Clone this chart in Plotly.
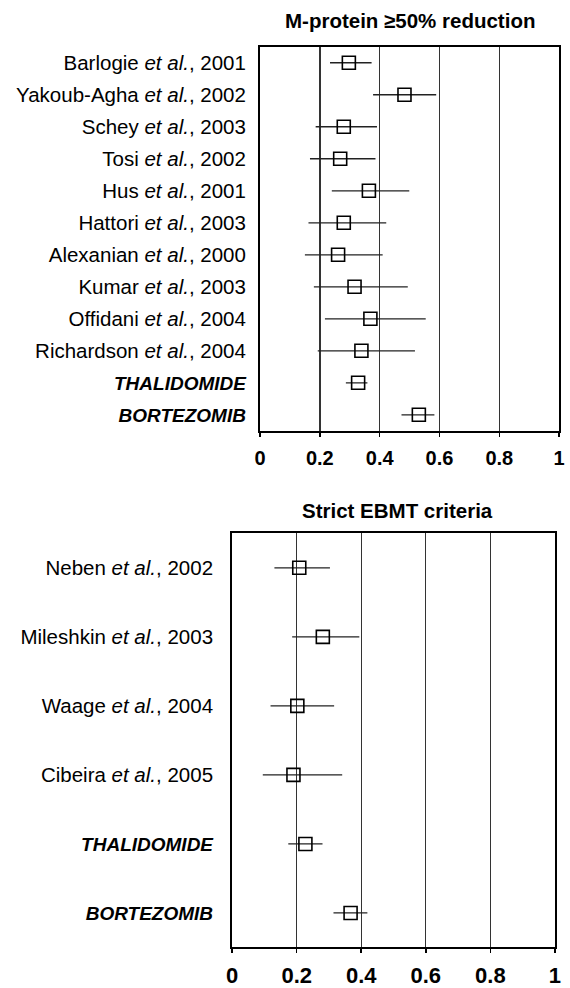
import plotly.graph_objects as go

# ---- Data: M-protein >=50% reduction ----
top_labels = [
    "Barlogie <i>et al.</i>, 2001",
    "Yakoub-Agha <i>et al.</i>, 2002",
    "Schey <i>et al.</i>, 2003",
    "Tosi <i>et al.</i>, 2002",
    "Hus <i>et al.</i>, 2001",
    "Hattori <i>et al.</i>, 2003",
    "Alexanian <i>et al.</i>, 2000",
    "Kumar <i>et al.</i>, 2003",
    "Offidani <i>et al.</i>, 2004",
    "Richardson <i>et al.</i>, 2004",
    "<span style=\"font-size:19px\"><b><i>THALIDOMIDE</i></b></span>",
    "<span style=\"font-size:19px\"><b><i>BORTEZOMIB</i></b></span>",
]
top_est = [0.297, 0.483, 0.280, 0.268, 0.364, 0.280, 0.261, 0.316, 0.369, 0.339, 0.328, 0.531]
top_lo = [0.234, 0.378, 0.186, 0.167, 0.240, 0.162, 0.150, 0.180, 0.217, 0.193, 0.287, 0.473]
top_hi = [0.373, 0.589, 0.391, 0.386, 0.499, 0.422, 0.410, 0.494, 0.554, 0.518, 0.359, 0.583]

# ---- Data: Strict EBMT criteria ----
bot_labels = [
    "Neben <i>et al.</i>, 2002",
    "Mileshkin <i>et al.</i>, 2003",
    "Waage <i>et al.</i>, 2004",
    "Cibeira <i>et al.</i>, 2005",
    "<span style=\"font-size:19px\"><b><i>THALIDOMIDE</i></b></span>",
    "<span style=\"font-size:19px\"><b><i>BORTEZOMIB</i></b></span>",
]
bot_est = [0.208, 0.281, 0.202, 0.190, 0.227, 0.367]
bot_lo = [0.131, 0.186, 0.119, 0.095, 0.174, 0.314]
bot_hi = [0.303, 0.394, 0.316, 0.341, 0.280, 0.419]

x_ticks = [0, 0.2, 0.4, 0.6, 0.8, 1]
x_ticktext = ["0", "0.2", "0.4", "0.6", "0.8", "1"]

titles = ["M-protein \u226550% reduction", "Strict EBMT criteria"]

FONT = "Liberation Sans, Arial, Helvetica, sans-serif"

fig = go.Figure()


def add_panel(labels, est, lo, hi, xa, ya):
    pos = list(range(1, len(labels) + 1))
    fig.add_trace(go.Scatter(
        x=est, y=pos, mode="markers",
        xaxis=xa, yaxis=ya,
        marker=dict(symbol="square-open", size=13, color="black",
                    line=dict(width=1.6, color="black")),
        error_x=dict(type="data", symmetric=False,
                     array=[h - e for h, e in zip(hi, est)],
                     arrayminus=[e - l for e, l in zip(est, lo)],
                     color="#222222", thickness=1.3, width=0),
        showlegend=False, hoverinfo="skip",
    ))
    return pos


pos_top = add_panel(top_labels, top_est, top_lo, top_hi, "x", "y")
pos_bot = add_panel(bot_labels, bot_est, bot_lo, bot_hi, "x2", "y2")

W, H = 570, 988


def xaxis_style(size, standoff):
    return dict(
        range=[0, 1], tickvals=x_ticks,
        ticktext=["<b>%s</b>" % t for t in x_ticktext],
        showgrid=True, gridcolor="#333333", gridwidth=1.4,
        showline=True, linecolor="black", linewidth=2, mirror=True,
        ticks="outside", ticklen=4, tickcolor="black", tickwidth=1.5,
        tickfont=dict(family=FONT, size=size, color="black"),
        zeroline=False, fixedrange=True, ticklabelstandoff=standoff,
    )


def yaxis_style(standoff):
    return dict(
        showgrid=False, showline=True, linecolor="black", linewidth=2, mirror=True,
        ticks="", zeroline=False, fixedrange=True,
        tickfont=dict(family=FONT, size=20.5, color="black"),
        ticklabelstandoff=standoff,
    )


fig.update_layout(
    width=W, height=H,
    margin=dict(l=0, r=0, t=0, b=0),
    paper_bgcolor="white", plot_bgcolor="white",
    font=dict(family=FONT, color="black"),
    xaxis=dict(domain=[259.5 / W, 565 / W], anchor="y", **xaxis_style(20, 4)),
    yaxis=dict(domain=[1 - 433 / H, 1 - 47 / H], anchor="x",
               range=[len(top_labels) + 0.5, 0.5],
               tickvals=pos_top, ticktext=top_labels, **yaxis_style(8)),
    xaxis2=dict(domain=[231 / W, 560.7 / W], anchor="y2", **xaxis_style(22, 3)),
    yaxis2=dict(domain=[1 - 952.3 / H, 1 - 536 / H], anchor="x2",
                range=[len(bot_labels) + 0.5, 0.5],
                tickvals=pos_bot, ticktext=bot_labels, **yaxis_style(13)),
    annotations=[
        dict(text="<b>%s</b>" % titles[0], x=413 / W, y=1 - 21 / H,
             xref="paper", yref="paper", xanchor="center", yanchor="middle",
             showarrow=False, font=dict(family=FONT, size=20.5, color="black")),
        dict(text="<b>%s</b>" % titles[1], x=400 / W, y=1 - 513 / H,
             xref="paper", yref="paper", xanchor="center", yanchor="middle",
             showarrow=False, font=dict(family=FONT, size=20.5, color="black")),
    ],
)

fig.write_html(
    "out.html",
    config={"displayModeBar": False, "staticPlot": True},
    post_script="document.body.style.margin='0';document.body.style.overflow='hidden';",
)
